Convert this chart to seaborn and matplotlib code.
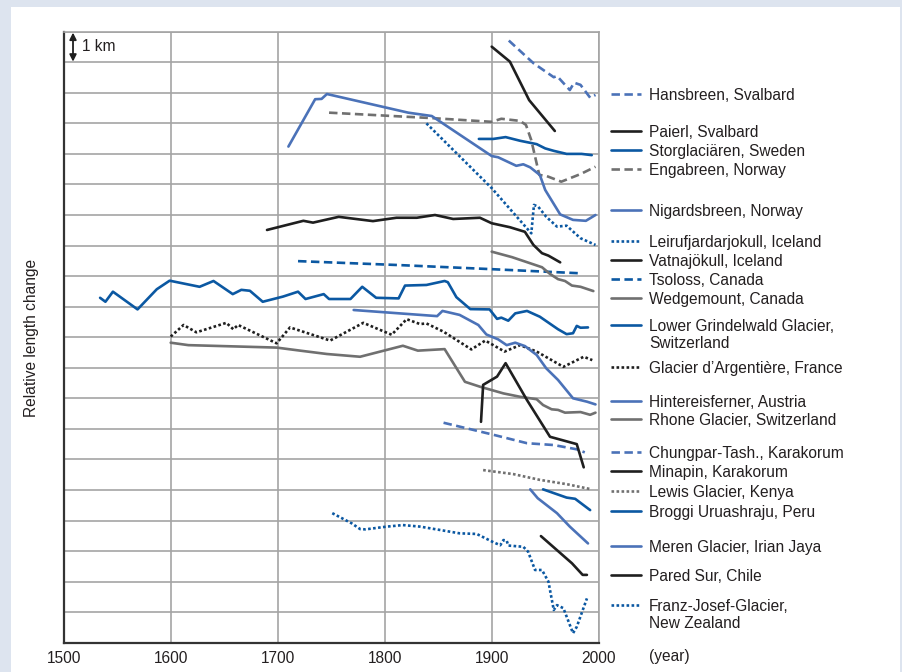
import numpy as np
import pandas as pd
import matplotlib
matplotlib.use("Agg")
import matplotlib.pyplot as plt
import seaborn as sns
from matplotlib.lines import Line2D
from matplotlib.patches import Rectangle

# ---------------- data (year, relative length in km) ----------------
hansbreen_year = [1916, 1939, 1958, 1961, 1973, 1977, 1983, 1992, 1997]
hansbreen_km = [19.71, 18.97, 18.51, 18.55, 18.09, 18.33, 18.26, 17.84, 17.93]

paierl_year = [1900, 1917, 1935, 1959]
paierl_km = [19.51, 19.02, 17.76, 16.75]

storglaciaren_year = [1888, 1901.5, 1913, 1926.5, 1942, 1950, 1958, 1970, 1984, 1993.5]
storglaciaren_km = [16.49, 16.49, 16.55, 16.43, 16.32, 16.18, 16.10, 16.00, 16.00, 15.96]

engabreen_year = [1748, 1845, 1900, 1909, 1926.5, 1932, 1937, 1944.5, 1951, 1965, 1983, 1997]
engabreen_km = [17.35, 17.17, 17.05, 17.15, 17.08, 16.95, 16.45, 15.31, 15.28, 15.09, 15.34, 15.58]

nigardsbreen_year = [1710, 1735, 1741, 1746, 1822, 1844, 1900, 1906, 1923, 1929.5, 1936,
                     1945, 1950, 1964, 1976, 1988, 1997]
nigardsbreen_km = [16.24, 17.79, 17.80, 17.96, 17.35, 17.24, 15.93, 15.89, 15.61, 15.66, 15.56,
                   15.31, 14.82, 14.02, 13.84, 13.81, 14.00]

leiru_year = [1839, 1900, 1937, 1939.5, 1943.5, 1951, 1961, 1970, 1983, 1997]
leiru_km = [17.00, 14.88, 13.40, 14.33, 14.27, 13.94, 13.62, 13.65, 13.24, 13.02]

vatna_year = [1690, 1724, 1733, 1757, 1789, 1811, 1830, 1847, 1864, 1889, 1900, 1917,
              1931, 1939, 1947, 1953, 1964]
vatna_km = [13.51, 13.81, 13.75, 13.94, 13.80, 13.91, 13.91, 14.00, 13.87, 13.91, 13.73, 13.60,
            13.45, 13.02, 12.75, 12.67, 12.45]

tsoloss_year = [1719, 1814, 1898, 1984]
tsoloss_km = [12.49, 12.36, 12.23, 12.09]

wedgemount_year = [1900, 1919, 1936, 1947, 1954.5, 1962, 1968.5, 1975, 1983, 1995]
wedgemount_km = [12.80, 12.62, 12.42, 12.29, 12.07, 11.90, 11.84, 11.69, 11.65, 11.51]

grindelwald_year = [1534, 1539, 1546, 1569, 1587, 1599, 1627, 1640, 1658, 1666, 1674, 1686,
                    1705, 1719, 1726, 1743, 1748, 1768, 1779, 1792, 1813, 1819, 1839, 1856,
                    1859, 1867, 1880, 1898, 1905, 1909, 1915.5, 1922, 1933, 1945, 1962, 1970,
                    1976, 1979.5, 1983, 1990]
grindelwald_km = [11.29, 11.16, 11.49, 10.91, 11.57, 11.85, 11.65, 11.84, 11.41, 11.55, 11.52,
                  11.16, 11.33, 11.49, 11.25, 11.41, 11.25, 11.25, 11.65, 11.29, 11.27, 11.69,
                  11.71, 11.84, 11.80, 11.31, 10.92, 10.91, 10.60, 10.64, 10.54, 10.78, 10.86,
                  10.67, 10.26, 10.10, 10.13, 10.37, 10.31, 10.32]

argentiere_year = [1600, 1612, 1624, 1652, 1658.5, 1663, 1699, 1711.5, 1749, 1780, 1806.5,
                   1820.5, 1833, 1839, 1855, 1881, 1894, 1912, 1926.5, 1942, 1967, 1986, 1994]
argentiere_km = [10.02, 10.40, 10.16, 10.47, 10.26, 10.40, 9.80, 10.32, 9.89, 10.47, 10.08,
                 10.59, 10.43, 10.45, 10.18, 9.60, 9.89, 9.53, 9.74, 9.53, 9.03, 9.36, 9.25]

hintereis_year = [1771, 1849, 1854, 1870, 1887.5, 1895, 1906, 1914, 1922, 1931, 1942, 1951,
                  1962, 1976, 1989, 1997]
hintereis_km = [10.89, 10.69, 10.86, 10.73, 10.40, 10.09, 9.93, 9.74, 9.82, 9.71, 9.42, 8.98,
                8.60, 8.00, 7.89, 7.80]

rhone_year = [1600, 1616.5, 1699, 1721, 1746, 1777, 1817, 1831, 1856, 1875, 1889, 1911,
              1926.5, 1942, 1948, 1956, 1962, 1968.5, 1983, 1992, 1997]
rhone_km = [9.82, 9.74, 9.66, 9.56, 9.45, 9.36, 9.72, 9.56, 9.61, 8.54, 8.38, 8.16, 8.05,
            7.97, 7.78, 7.64, 7.62, 7.53, 7.55, 7.46, 7.53]

chungpar_year = [1855, 1900, 1933, 1958, 1979.5, 1987]
chungpar_km = [7.20, 6.82, 6.53, 6.47, 6.33, 6.23]

minapin_year = [1890, 1892, 1905, 1913, 1933, 1954.5, 1979.5, 1986]
minapin_km = [7.23, 8.44, 8.71, 9.15, 7.94, 6.74, 6.50, 5.74]

lewis_year = [1892, 1920, 1945, 1970, 1992]
lewis_km = [5.65, 5.52, 5.33, 5.19, 5.03]

broggi_year = [1948, 1970, 1978, 1992]
broggi_km = [5.02, 4.75, 4.71, 4.34]

meren_year = [1936, 1943, 1961, 1973, 1990]
meren_km = [5.02, 4.73, 4.24, 3.80, 3.25]

pared_year = [1946, 1975, 1985, 1989]
pared_km = [3.49, 2.60, 2.22, 2.22]

franz_year = [1751, 1769, 1777, 1782, 1802, 1817, 1833, 1855, 1870, 1886, 1901.5, 1908, 1911,
              1914, 1915.5, 1929.5, 1934, 1940.5, 1947, 1953, 1958, 1961, 1967, 1976, 1979.5, 1989]
franz_km = [4.24, 3.91, 3.72, 3.71, 3.80, 3.85, 3.80, 3.67, 3.58, 3.56, 3.29, 3.19, 3.36,
            3.34, 3.18, 3.14, 2.98, 2.38, 2.38, 2.00, 1.07, 1.23, 1.13, 0.31, 0.52, 1.45]

x_ticks = [1500, 1600, 1700, 1800, 1900, 2000]

# ---------------- styles ----------------
COL = {"mid": "#4b72b8", "dark": "#0b58a2", "black": "#1f1f1f", "gray": "#707070"}
LS = {"solid": "-", "dashed": (0, (3.2, 1.7)), "dotted": (0, (1.0, 0.9))}

series = [
    ("Hansbreen, Svalbard", hansbreen_year, hansbreen_km, "mid", "dashed"),
    ("Paierl, Svalbard", paierl_year, paierl_km, "black", "solid"),
    ("Storglaciären, Sweden", storglaciaren_year, storglaciaren_km, "dark", "solid"),
    ("Engabreen, Norway", engabreen_year, engabreen_km, "gray", "dashed"),
    ("Nigardsbreen, Norway", nigardsbreen_year, nigardsbreen_km, "mid", "solid"),
    ("Leirufjardarjokull, Iceland", leiru_year, leiru_km, "dark", "dotted"),
    ("Vatnajökull, Iceland", vatna_year, vatna_km, "black", "solid"),
    ("Tsoloss, Canada", tsoloss_year, tsoloss_km, "dark", "dashed"),
    ("Wedgemount, Canada", wedgemount_year, wedgemount_km, "gray", "solid"),
    ("Lower Grindelwald Glacier,\nSwitzerland", grindelwald_year, grindelwald_km, "dark", "solid"),
    ("Glacier d\u2019Argentière, France", argentiere_year, argentiere_km, "black", "dotted"),
    ("Hintereisferner, Austria", hintereis_year, hintereis_km, "mid", "solid"),
    ("Rhone Glacier, Switzerland", rhone_year, rhone_km, "gray", "solid"),
    ("Chungpar-Tash., Karakorum", chungpar_year, chungpar_km, "mid", "dashed"),
    ("Minapin, Karakorum", minapin_year, minapin_km, "black", "solid"),
    ("Lewis Glacier, Kenya", lewis_year, lewis_km, "gray", "dotted"),
    ("Broggi Uruashraju, Peru", broggi_year, broggi_km, "dark", "solid"),
    ("Meren Glacier, Irian Jaya", meren_year, meren_km, "mid", "solid"),
    ("Pared Sur, Chile", pared_year, pared_km, "black", "solid"),
    ("Franz-Josef-Glacier,\nNew Zealand", franz_year, franz_km, "dark", "dotted"),
]

# legend row positions (pixels from top of figure) - layout only
legend_rows_px = [94, 131, 150, 169, 210, 241, 260, 279, 298, 325, 367, 401, 419,
                  452, 471, 491, 511, 546, 575, 605]

# ---------------- figure ----------------
sns.set_style("white")
plt.rcParams["font.family"] = ["Liberation Sans", "DejaVu Sans"]
TXT = "#231f20"
FS = 11.2
W, H = 903, 672

fig = plt.figure(figsize=(W / 100, H / 100), dpi=100)
fig.patch.set_facecolor("#dde4ef")
fig.add_artist(Rectangle((11 / W, 0), (900 - 11) / W, 1 - 7 / H,
                         transform=fig.transFigure, facecolor="white",
                         edgecolor="none", zorder=0))

ax = fig.add_axes([63.7 / W, 1 - 642.7 / H, 535 / W, 611 / H])
ax.set_facecolor("white")

for name, yrs, kms, c, s in series:
    df = pd.DataFrame({"year": yrs, "km": kms})
    sns.lineplot(data=df, x="year", y="km", ax=ax, color=COL[c], linestyle=LS[s],
                 linewidth=1.9, sort=False, estimator=None, zorder=3)

ax.set_xlim(1500, 2000)
ax.set_ylim(0, 20)
ax.set_xticks(x_ticks)
ax.set_xticklabels([str(v) for v in x_ticks], fontsize=FS, color=TXT)
ax.set_yticks(range(0, 21))
ax.set_yticklabels([])
ax.set_xlabel("")
ax.set_ylabel("")
ax.grid(True, color="#a4a4a4", linewidth=1.2, zorder=1)
ax.set_axisbelow(True)
ax.tick_params(length=0, pad=6)
for side in ["top", "right"]:
    ax.spines[side].set_color("#a4a4a4")
    ax.spines[side].set_linewidth(1.2)
for side in ["left", "bottom"]:
    ax.spines[side].set_color("#333333")
    ax.spines[side].set_linewidth(1.6)

# 1 km scale marker
ax.annotate("", xy=(1508.7, 19.02), xytext=(1508.7, 19.97),
            arrowprops=dict(arrowstyle="<|-|>", color="#1f1f1f", lw=1.3,
                            mutation_scale=10, shrinkA=0, shrinkB=0))
ax.text(1517, 19.52, "1 km", fontsize=FS, color=TXT, va="center", ha="left")

fig.text(32 / W, 1 - 338 / H, "Relative length change", rotation=90,
         fontsize=FS, color=TXT, ha="center", va="center")
fig.text(649 / W, 1 - 657 / H, "(year)", fontsize=FS, color=TXT, ha="left", va="center")

# manual legend
for (name, yrs, kms, c, s), ypx in zip(series, legend_rows_px):
    yf = 1 - ypx / H
    fig.add_artist(Line2D([611.5 / W, 641.5 / W], [yf, yf], transform=fig.transFigure,
                          color=COL[c], linestyle=LS[s], linewidth=1.9))
    lines = name.split("\n")
    for i, ln in enumerate(lines):
        fig.text(649 / W, 1 - (ypx + 1.5 + i * 17.5) / H, ln, fontsize=FS, color=TXT,
                 ha="left", va="center")

fig.savefig("out.png", dpi=100, facecolor=fig.get_facecolor())
